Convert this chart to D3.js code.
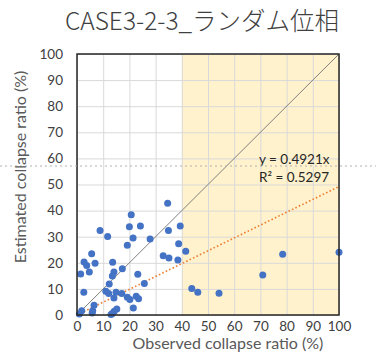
<!DOCTYPE html>
<html>
  <head>
    <meta charset="utf-8">
    <script src="https://d3js.org/d3.v7.min.js"></script>
    <style>
      body { margin: 0; background: #fff; }
      #chart { font-family: Lato, "Noto Sans", sans-serif; }
      .grid line { stroke: #d9d9d9; }
      .grid path { display: none; }
      .ticks path, .ticks line { display: none; }
      .ticks text { fill: #404040; font-family: Lato, sans-serif; font-size: 13.5px; }
    </style>
  </head>
  <body>
    <svg id="chart" width="376" height="355"></svg>
    <script>
      // observed / estimated collapse ratio (%)
      const observed = [34.6, 20.7, 20.0, 24.2, 8.8, 11.7, 21.4, 27.9, 34.9, 39.4,
        19.2, 38.8, 41.5, 32.9, 35.1, 38.5, 5.6, 2.7, 3.7, 6.9,
        13.6, 17.3, 1.4, 4.7, 14.1, 13.5, 23.2, 12.3, 25.7, 2.6,
        11.0, 12.1, 14.9, 17.1, 14.1, 19.2, 20.2, 22.6, 23.5, 6.5,
        21.5, 15.2, 14.2, 13.5, 13.0, 6.0, 5.8, 1.8, 0.9, 43.8,
        46.1, 54.2, 70.9, 78.5, 100.0];
      const estimated = [42.8, 38.4, 33.8, 34.1, 32.4, 30.1, 29.5, 29.1, 32.4, 34.1,
        26.7, 27.3, 24.4, 22.7, 21.8, 21.1, 23.5, 20.3, 19.0, 19.8,
        20.2, 17.7, 15.7, 16.5, 16.5, 14.9, 15.6, 11.9, 12.1, 8.7,
        9.1, 8.2, 8.7, 8.2, 6.5, 6.8, 5.9, 7.2, 6.2, 3.7,
        2.7, 2.3, 1.4, 0.6, 0.2, 1.6, 0.8, 1.6, 0.4, 10.2,
        8.7, 8.3, 15.3, 23.3, 24.0];
      const ticks = [0, 10, 20, 30, 40, 50, 60, 70, 80, 90, 100];
      const slope = 0.4921;
      const rSquared = 0.5297;
      const shadeFrom = 40;

      const svg = d3.select("#chart");
      const x = d3.scaleLinear().domain([0, 100]).range([77, 339]);
      const y = d3.scaleLinear().domain([0, 100]).range([315, 54]);

      // shaded region
      svg.append("rect")
        .attr("x", x(shadeFrom)).attr("y", y(100))
        .attr("width", x(100) - x(shadeFrom)).attr("height", y(0) - y(100))
        .attr("fill", "#fff2cc");

      // gridlines
      svg.append("g").attr("class", "grid")
        .attr("transform", `translate(0,${y(0)})`)
        .call(d3.axisBottom(x).tickValues(ticks).tickSize(-(y(0) - y(100))).tickFormat(""));
      svg.append("g").attr("class", "grid")
        .attr("transform", `translate(${x(0)},0)`)
        .call(d3.axisLeft(y).tickValues(ticks).tickSize(-(x(100) - x(0))).tickFormat(""));

      // 1:1 line
      svg.append("line")
        .attr("x1", x(0)).attr("y1", y(0)).attr("x2", x(100)).attr("y2", y(100))
        .attr("stroke", "#808080").attr("stroke-width", 1);

      // trend line
      svg.append("line")
        .attr("x1", x(0)).attr("y1", y(0)).attr("x2", x(100)).attr("y2", y(100 * slope))
        .attr("stroke", "#ed7d31").attr("stroke-width", 1.6)
        .attr("stroke-dasharray", "1.6,2.2");

      // points
      svg.selectAll("circle.pt").data(observed)
        .join("circle")
        .attr("class", "pt")
        .attr("cx", d => x(d))
        .attr("cy", (d, i) => y(estimated[i]))
        .attr("r", 3.5)
        .attr("fill", "#4472c4");

      // frame
      svg.append("rect")
        .attr("x", x(0)).attr("y", y(100))
        .attr("width", x(100) - x(0)).attr("height", y(0) - y(100))
        .attr("fill", "none").attr("stroke", "#262626").attr("stroke-width", 1.5);

      // tick labels
      svg.append("g").attr("class", "ticks")
        .attr("transform", `translate(${x(0) - 3},0)`)
        .call(d3.axisLeft(y).tickValues(ticks).tickSize(0).tickPadding(11));
      svg.append("g").attr("class", "ticks")
        .attr("transform", `translate(0,${y(0)})`)
        .call(d3.axisBottom(x).tickValues(ticks).tickSize(0).tickPadding(6));

      // equation
      svg.append("text")
        .attr("x", 259).attr("y", 164)
        .attr("fill", "#262626").attr("font-size", 13.5)
        .text(`y = ${slope}x`);
      svg.append("text")
        .attr("x", 259).attr("y", 182)
        .attr("fill", "#262626").attr("font-size", 13.5)
        .text(`R² = ${rSquared}`);

      // dashed guide across the picture
      svg.append("line")
        .attr("x1", 0).attr("x2", 376).attr("y1", 166).attr("y2", 166)
        .attr("stroke", "#b0b0b0").attr("stroke-width", 1)
        .attr("stroke-dasharray", "2,3");

      // titles
      svg.append("text")
        .attr("x", 202).attr("y", 30)
        .attr("text-anchor", "middle")
        .attr("font-family", "'Noto Sans CJK JP', sans-serif")
        .attr("font-weight", 300)
        .attr("font-size", 24.5).attr("fill", "#404040")
        .text("CASE3-2-3_ランダム位相");
      svg.append("text")
        .attr("x", 228).attr("y", 349)
        .attr("text-anchor", "middle")
        .attr("font-size", 16).attr("fill", "#595959")
        .text("Observed collapse ratio (%)");
      svg.append("text")
        .attr("transform", "translate(26,167) rotate(-90)")
        .attr("text-anchor", "middle")
        .attr("font-size", 16).attr("fill", "#595959")
        .text("Estimated collapse ratio (%)");
    </script>
  </body>
</html>
